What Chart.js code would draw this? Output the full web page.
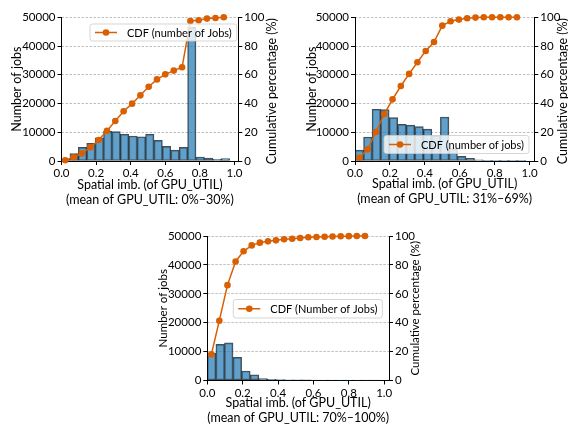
<!DOCTYPE html>
<html>
<head>
<meta charset="utf-8">
<script src="https://cdn.jsdelivr.net/npm/chart.js@4"></script>
<style>
html,body{margin:0;padding:0;background:#fff;}
body{width:568px;height:424px;position:relative;overflow:hidden;}
canvas{position:absolute;}
</style>
</head>
<body>
<canvas id="c1" width="284" height="210" style="left:0;top:0;"></canvas>
<canvas id="c2" width="284" height="210" style="left:284px;top:0;"></canvas>
<canvas id="c3" width="290" height="209" style="left:140px;top:215px;"></canvas>
<script>
// ---------- shared tick labels ----------
const xTicks = [0, 0.2, 0.4, 0.6, 0.8, 1.0];
const countTicks = [0, 10000, 20000, 30000, 40000, 50000];
const pctTicks = [0, 20, 40, 60, 80, 100];

// ---------- panel A: mean GPU_UTIL 0%-30% ----------
const binsA = [0.0243, 0.0729, 0.1215, 0.1701, 0.2187, 0.2673, 0.3159, 0.3645, 0.4131, 0.4617,
               0.5103, 0.5589, 0.6075, 0.6561, 0.7047, 0.7533, 0.8019, 0.8505, 0.8991, 0.9477];
const countsA = [700, 2550, 4750, 6150, 8100, 10300, 10200, 9300, 8700, 8450,
                 9300, 7200, 5100, 3800, 4750, 46500, 1400, 1050, 600, 800];
const cdfXA = [0.022, 0.070, 0.118, 0.167, 0.215, 0.263, 0.311, 0.359, 0.408, 0.456,
               0.504, 0.552, 0.600, 0.649, 0.697, 0.745, 0.793, 0.841, 0.890, 0.938];
const cdfA = [0.5, 2.6, 5.3, 9.5, 14.6, 21.1, 27.8, 34.6, 39.9, 45.7,
              51.7, 56.8, 60.3, 62.9, 65.2, 97.4, 97.9, 99.1, 99.5, 100];

// ---------- panel B: mean GPU_UTIL 31%-69% ----------
const binsB = [0.0245, 0.0734, 0.1223, 0.1712, 0.2201, 0.2690, 0.3179, 0.3668, 0.4157, 0.4646,
               0.5135, 0.5624, 0.6113, 0.6602, 0.7091, 0.7580, 0.8069, 0.8558, 0.9047, 0.9536];
const countsB = [3800, 8350, 18000, 17900, 15100, 12750, 12500, 11950, 11100, 8800,
                 15300, 4300, 1600, 900, 400, 200, 100, 60, 30, 20];
const cdfXB = [0.025, 0.0725, 0.120, 0.1675, 0.215, 0.2625, 0.310, 0.3575, 0.405, 0.4525,
               0.500, 0.5475, 0.595, 0.6425, 0.690, 0.7375, 0.785, 0.8325, 0.880, 0.9275];
const cdfB = [2.3, 8.1, 20.2, 32.7, 42.9, 52.2, 60.6, 68.7, 76.6, 82.8,
              94.2, 97.2, 98.4, 99.3, 99.8, 100, 100, 100, 100, 100];

// ---------- panel C: mean GPU_UTIL 70%-100% ----------
const binsC = [0.0243, 0.0728, 0.1213, 0.1698, 0.2183, 0.2668, 0.3153, 0.3638, 0.4123, 0.4608,
               0.5093, 0.5578, 0.6063, 0.6548, 0.7033, 0.7518, 0.8003, 0.8488, 0.8973, 0.9458];
const countsC = [9500, 12500, 13000, 8000, 3300, 2000, 700, 400, 300, 250,
                 250, 200, 150, 100, 80, 60, 50, 40, 30, 20];
const cdfXC = [0.023, 0.068, 0.114, 0.160, 0.205, 0.251, 0.297, 0.343, 0.388, 0.434,
               0.480, 0.525, 0.571, 0.617, 0.663, 0.708, 0.754, 0.800, 0.845, 0.891];
const cdfC = [18.1, 41.4, 66.0, 82.4, 89.4, 93.5, 95.4, 96.3, 97.0, 97.7,
              98.1, 98.6, 99.1, 99.3, 99.5, 99.7, 99.8, 99.9, 100, 100];

const ORANGE = '#d95f02';
const BAR_FILL = 'rgba(31,119,180,0.7)';
const BAR_EDGE = 'rgba(0,0,0,0.7)';

const extras = {
  id: 'extras',
  afterDatasetsDraw(chart, args, o) {
    const ctx = chart.ctx, a = chart.chartArea;
    // right axis title (reads bottom-to-top)
    ctx.save();
    ctx.font = o.rtSize + 'px Lato';
    ctx.fillStyle = '#000';
    ctx.textAlign = 'center';
    ctx.textBaseline = 'middle';
    ctx.translate(o.rtX, (a.top + a.bottom) / 2 + o.rtDy);
    ctx.rotate(-Math.PI / 2);
    ctx.fillText(o.rtText, 0, 0);
    ctx.restore();
    // legend box
    ctx.save();
    ctx.font = o.lgSize + 'px Lato';
    const tw = ctx.measureText(o.lgText).width;
    const x = o.lgX, y = o.lgY, h = o.lgH, w = 37 + tw + 5, r = 2.5;
    ctx.beginPath();
    ctx.moveTo(x + r, y);
    ctx.lineTo(x + w - r, y); ctx.arcTo(x + w, y, x + w, y + r, r);
    ctx.lineTo(x + w, y + h - r); ctx.arcTo(x + w, y + h, x + w - r, y + h, r);
    ctx.lineTo(x + r, y + h); ctx.arcTo(x, y + h, x, y + h - r, r);
    ctx.lineTo(x, y + r); ctx.arcTo(x, y, x + r, y, r);
    ctx.closePath();
    ctx.fillStyle = 'rgba(255,255,255,0.8)';
    ctx.fill();
    ctx.strokeStyle = 'rgba(204,204,204,0.8)';
    ctx.lineWidth = 1;
    ctx.stroke();
    const cy = y + h / 2;
    ctx.strokeStyle = ORANGE;
    ctx.lineWidth = 1.5;
    ctx.beginPath(); ctx.moveTo(x + 5, cy); ctx.lineTo(x + 27, cy); ctx.stroke();
    ctx.fillStyle = ORANGE;
    ctx.beginPath(); ctx.arc(x + 16, cy, 3.3, 0, Math.PI * 2); ctx.fill();
    ctx.fillStyle = '#000';
    ctx.textAlign = 'left';
    ctx.textBaseline = 'middle';
    ctx.fillText(o.lgText, x + 37, cy + 0.5);
    ctx.restore();
  }
};

function build(id, bins, counts, cdfX, cdf, L) {
  const setTicks = arr => s => { s.ticks = arr.map(v => ({ value: v })); };
  new Chart(document.getElementById(id), {
    type: 'bar',
    data: {
      datasets: [
        {
          type: 'line',
          data: cdfX.map((x, i) => ({ x: x, y: cdf[i] })),
          xAxisID: 'x', yAxisID: 'y2',
          borderColor: ORANGE, backgroundColor: ORANGE,
          pointBackgroundColor: ORANGE, pointBorderColor: ORANGE,
          pointRadius: 3.3, pointBorderWidth: 0, borderWidth: 1.5,
          tension: 0, clip: false, order: 0
        },
        {
          type: 'bar',
          data: bins.map((x, i) => ({ x: x, y: counts[i] })),
          xAxisID: 'x', yAxisID: 'y',
          backgroundColor: BAR_FILL, borderColor: BAR_EDGE, borderWidth: 1,
          borderSkipped: false, barPercentage: 1, categoryPercentage: 1,
          grouped: false, order: 1
        }
      ]
    },
    options: {
      responsive: false, animation: false, events: [],
      layout: { padding: { top: L.top, left: 0, right: 0, bottom: 0 } },
      plugins: {
        legend: { display: false }, tooltip: { enabled: false },
        extras: L.extras
      },
      scales: {
        x: {
          type: 'linear', min: 0, max: L.xMax, offset: false,
          afterBuildTicks: setTicks(xTicks),
          afterFit: s => { s.height = L.xH; },
          grid: { drawOnChartArea: false, drawTicks: true, tickLength: 4, tickColor: '#000', offset: false },
          border: { color: '#000', width: 1 },
          ticks: { font: { size: 11.5 }, padding: 1.5, maxRotation: 0, autoSkip: false,
                   callback: v => Number(v).toFixed(1) },
          title: { display: true, text: L.xTitle, color: '#000',
                   font: { size: 12.5, lineHeight: 1.2 }, padding: { top: 0, bottom: L.xtPb } }
        },
        y: {
          position: 'left', min: 0, max: 50000,
          afterBuildTicks: setTicks(countTicks),
          afterFit: s => { s.width = L.yW; },
          grid: { drawOnChartArea: false, drawTicks: true, tickLength: 4, tickColor: '#000' },
          border: { color: '#000', width: 1 },
          ticks: { font: { size: 11.5 }, padding: 2, callback: v => String(v) },
          title: { display: true, text: 'Number of jobs', color: '#000',
                   font: { size: L.ytSize, lineHeight: 1.2 }, padding: { top: L.ytPt, bottom: 0 } }
        },
        y2: {
          position: 'right', min: 0, max: 100,
          afterBuildTicks: setTicks(pctTicks),
          afterFit: s => { s.width = L.y2W; },
          grid: { drawOnChartArea: true, drawTicks: true, color: '#b0b0b0', lineWidth: 0.8,
                  tickLength: 4, tickColor: '#000', tickWidth: 1, tickBorderDash: [] },
          border: { color: '#000', width: 1, dash: [2.5, 1.5] },
          ticks: { font: { size: 11.5 }, padding: 2, callback: v => String(v) },
          title: { display: false }
        }
      }
    },
    plugins: [extras]
  });
}

function go() {
  Chart.defaults.font.family = 'Lato';
  Chart.defaults.color = '#000';
  build('c1', binsA, countsA, cdfXA, cdfA, {
    top: 17.3, xMax: 1.022, xH: 49, yW: 61.5, y2W: 45.7, ytSize: 12.5, ytPt: 9.2, xtPb: 3,
    xTitle: ['Spatial imb. (of GPU_UTIL)', '(mean of GPU_UTIL: 0%\u201330%)'],
    extras: { rtText: 'Cumulative percentage (%)', rtSize: 12.5, rtX: 272, rtDy: 2,
              lgText: 'CDF (number of Jobs)', lgSize: 11, lgX: 90, lgY: 24, lgH: 17 }
  });
  build('c2', binsB, countsB, cdfXB, cdfB, {
    top: 17.3, xMax: 1.027, xH: 49, yW: 71, y2W: 33.7, ytSize: 12.5, ytPt: 20.8, xtPb: 3.2,
    xTitle: ['Spatial imb. (of GPU_UTIL)', '(mean of GPU_UTIL: 31%\u201369%)'],
    extras: { rtText: 'Cumulative percentage (%)', rtSize: 12.5, rtX: 279.3, rtDy: 2,
              lgText: 'CDF (number of jobs)', lgSize: 11, lgX: 100, lgY: 135.5, lgH: 18 }
  });
  build('c3', binsC, countsC, cdfXC, cdfC, {
    top: 21, xMax: 1.027, xH: 43.5, yW: 67.3, y2W: 41, ytSize: 11.5, ytPt: 16.5, xtPb: -1.5,
    xTitle: ['Spatial imb. (of GPU_UTIL)', '(mean of GPU_UTIL: 70%\u2013100%)'],
    extras: { rtText: 'Cumulative percentage (%)', rtSize: 11.5, rtX: 275.7, rtDy: 0,
              lgText: 'CDF (Number of Jobs)', lgSize: 11, lgX: 93.3, lgY: 84.5, lgH: 18.5 }
  });
}

if (document.fonts && document.fonts.load) {
  Promise.all([document.fonts.load('12px Lato'), document.fonts.load('bold 12px Lato')])
    .then(go, go);
} else {
  go();
}
</script>
</body>
</html>
